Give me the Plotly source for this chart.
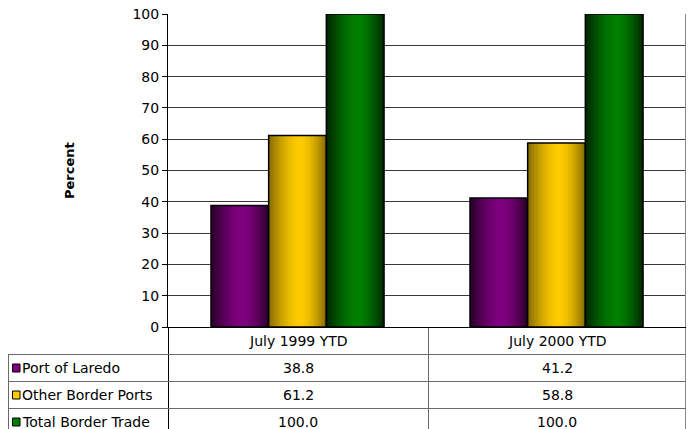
import plotly.graph_objects as go

# Share of U.S.-Mexico border trade, by port
categories = ["July 1999 YTD", "July 2000 YTD"]
series_names = ["Port of Laredo", "Other Border Ports", "Total Border Trade"]
port_of_laredo = [38.8, 41.2]
other_border_ports = [61.2, 58.8]
total_border_trade = [100.0, 100.0]
series_values = [port_of_laredo, other_border_ports, total_border_trade]
base_colors = [(128, 0, 128), (255, 204, 0), (0, 128, 0)]
edge_levels = [0.30, 0.52, 0.28]
y_ticks = list(range(0, 101, 10))

# Figure geometry (pixels)
W, H = 691, 429
L, R, T, B = 168, 686, 14, 327


def px(x):
    return (x - L) / (R - L)


def py(y):
    return (B - y) / (B - T)


FONT_FAMILY = "DejaVu Sans, Verdana, sans-serif"
xpos = list(range(len(categories)))
group_w = 0.668
bar_w = group_w / len(series_names)
n_strips = 30

fig = go.Figure()

for si, (name, vals, col, lo) in enumerate(zip(series_names, series_values, base_colors, edge_levels)):
    off0 = -group_w / 2 + si * bar_w
    sw = bar_w / n_strips
    # shaded fill: each strip runs from its own start to the bar's right edge,
    # so the next strip paints over it and no seams are left between them
    for k in range(n_strips):
        t = (k + 0.5) / n_strips
        peak = 0.55
        d = (peak - t) / peak if t < peak else (t - peak) / (1 - peak)
        f = lo + (1 - lo) * (1 - d ** 1.6)
        c = "rgb(%d,%d,%d)" % tuple(int(round(v * f)) for v in col)
        fig.add_trace(go.Bar(
            x=xpos, y=vals, width=bar_w - k * sw, offset=off0 + k * sw,
            marker=dict(color=c, line=dict(width=0)),
            showlegend=False, hoverinfo="skip",
        ))
    fig.add_trace(go.Bar(
        x=xpos, y=vals, width=bar_w, offset=off0, name=name,
        marker=dict(color="rgba(0,0,0,0)", line=dict(color="black", width=1.5)),
        showlegend=False,
    ))

shapes = []
grid_col = "#6a6a6a"
# right border of plot area and table
shapes.append(dict(type="line", xref="paper", yref="paper", x0=px(685.5), x1=px(685.5),
                   y0=py(T), y1=py(440), line=dict(color="#888888", width=1)))
# value axis continues through the table
shapes.append(dict(type="line", xref="paper", yref="paper", x0=px(168.5), x1=px(168.5),
                   y0=py(327), y1=py(440), line=dict(color="black", width=1)))
# category divider
shapes.append(dict(type="line", xref="paper", yref="paper", x0=px(428.5), x1=px(428.5),
                   y0=py(327), y1=py(440), line=dict(color=grid_col, width=1)))
# left edge of label column
shapes.append(dict(type="line", xref="paper", yref="paper", x0=px(8.5), x1=px(8.5),
                   y0=py(354), y1=py(440), line=dict(color=grid_col, width=1)))
# row separators
row_tops = [354.5, 381.5, 408.5]
for yy in row_tops:
    shapes.append(dict(type="line", xref="paper", yref="paper", x0=px(8.5), x1=px(686),
                       y0=py(yy), y1=py(yy), line=dict(color=grid_col, width=1)))
# category axis line at zero
shapes.append(dict(type="line", xref="paper", yref="paper", x0=px(163), x1=px(686),
                   y0=py(327.5), y1=py(327.5), line=dict(color="black", width=1)))

annotations = []
font = dict(family=FONT_FAMILY, size=14, color="black")
col_centers = [298, 557]
for ci, cat in enumerate(categories):
    annotations.append(dict(text=cat, xref="paper", yref="paper", x=px(col_centers[ci]), y=py(341),
                            showarrow=False, font=font, xanchor="center", yanchor="middle"))
for si, (name, vals, col) in enumerate(zip(series_names, series_values, base_colors)):
    yc = 368 + si * 27
    annotations.append(dict(text=name, xref="paper", yref="paper", x=px(20), y=py(yc),
                            showarrow=False, font=font, xanchor="left", yanchor="middle"))
    shapes.append(dict(type="rect", xref="paper", yref="paper", x0=px(12.5), x1=px(20),
                       y0=py(yc - 4), y1=py(yc + 4),
                       fillcolor="rgb(%d,%d,%d)" % col, line=dict(color="black", width=1)))
    for ci, v in enumerate(vals):
        annotations.append(dict(text="%.1f" % v, xref="paper", yref="paper", x=px(col_centers[ci]),
                                y=py(yc), showarrow=False, font=font,
                                xanchor="center", yanchor="middle"))

annotations.append(dict(text="<b>Percent</b>", xref="paper", yref="paper", x=px(69), y=py(171),
                        showarrow=False, textangle=-90,
                        font=dict(family=FONT_FAMILY, size=13, color="black"),
                        xanchor="center", yanchor="middle"))

fig.update_layout(
    width=W, height=H,
    margin=dict(l=L, r=W - R, t=T, b=H - B, pad=0),
    paper_bgcolor="white", plot_bgcolor="white",
    barmode="overlay",
    shapes=shapes, annotations=annotations,
    xaxis=dict(range=[-0.5, 1.5], showticklabels=False, showgrid=False, zeroline=False,
               showline=False, ticks=""),
    yaxis=dict(range=[0, 100], tickvals=y_ticks, ticks="outside", ticklen=5, tickcolor="black",
               showline=True, linecolor="black", linewidth=1,
               showgrid=True, gridcolor="#3a3a3a", gridwidth=1, zeroline=False,
               tickfont=dict(family=FONT_FAMILY, size=14, color="black")),
    font=font,
)

fig.write_html("out.html")
